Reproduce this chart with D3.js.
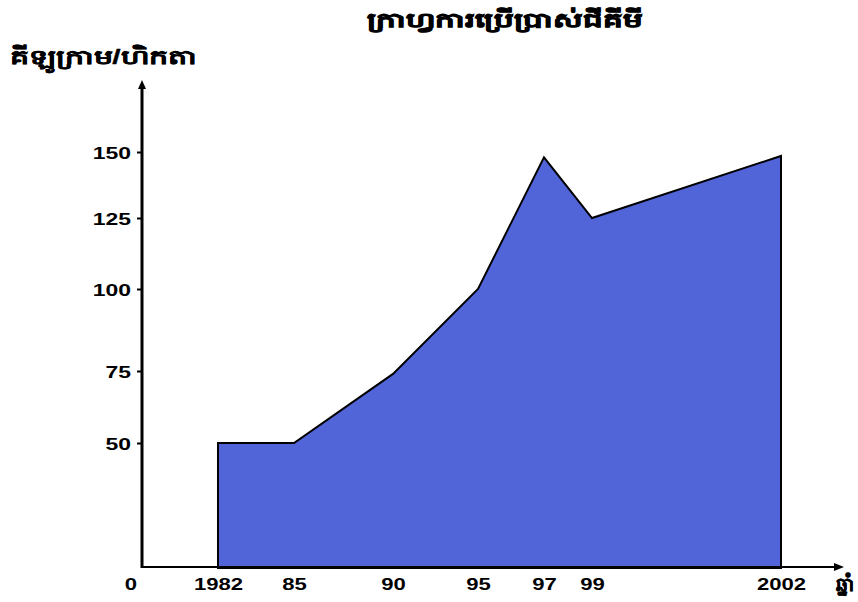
<!DOCTYPE html>
<html>
<head>
<meta charset="utf-8">
<script src="https://cdn.jsdelivr.net/npm/d3@7"></script>
<style>
  html, body { margin: 0; padding: 0; background: #fff; }
  svg { display: block; }
  text { font-family: "Liberation Sans", Arial, sans-serif; font-weight: bold; fill: #000; }
</style>
</head>
<body>
<svg id="chart" width="858" height="602"></svg>
<script>
// ---- data ----
const years = [1982, 1985, 1990, 1995, 1997, 1999, 2002];
const yieldKgHa = [50, 50, 74, 100, 148, 125, 148.5];
const xTickLabels = ["1982", "85", "90", "95", "97", "99", "2002"];
const yTickValues = [50, 75, 100, 125, 150];
const titleText = "ក្រាហ្វការប្រើប្រាស់ជីគីមី";
const yAxisTitle = "គីឡូក្រាម/ហិកតា";
const xAxisTitle = "ឆ្នាំ";

const svg = d3.select("#chart");
const originX = 142, originY = 567;

// hand-drawn axes: piecewise linear scales following the original tick placement
const x = d3.scaleLinear()
  .domain(years)
  .range([218, 294, 393, 478, 544, 592, 781]);
const y = d3.scaleLinear()
  .domain([0, 50, 75, 100, 125, 150, 177])
  .range([originY, 443, 371, 289, 218, 152, 80]);

const data = years.map((yr, i) => ({ year: yr, v: yieldKgHa[i] }));

// area
const area = d3.area()
  .x(d => x(d.year))
  .y0(originY + 1)
  .y1(d => y(d.v));
svg.append("path")
  .datum(data)
  .attr("d", area)
  .attr("fill", "#5164d8")
  .attr("stroke", "#000")
  .attr("stroke-width", 2)
  .attr("stroke-linejoin", "miter");

// y axis ticks + labels
const yAxis = d3.axisLeft(y).tickValues(yTickValues).tickSize(5).tickPadding(7)
  .tickFormat(d3.format("d"));
const gy = svg.append("g").attr("transform", `translate(${originX},0)`).call(yAxis);
gy.select(".domain").remove();
gy.selectAll(".tick line").attr("stroke", "#000").attr("stroke-width", 2);
gy.selectAll(".tick text")
  .attr("font-size", 17)
  .attr("font-family", "Liberation Sans, Arial, sans-serif")
  .attr("font-weight", "bold")
  .attr("dy", "0.36em")
  .attr("x", null)
  .attr("transform", "translate(-11,0) scale(1.35,1)");

// axis lines
svg.append("line")
  .attr("x1", originX).attr("y1", originY + 1)
  .attr("x2", originX).attr("y2", y(177) + 6)
  .attr("stroke", "#000").attr("stroke-width", 3);
svg.append("path")
  .attr("d", d3.line()([[originX - 4, y(177) + 9], [originX, y(177)], [originX + 4, y(177) + 9]]) + "Z")
  .attr("fill", "#000");
svg.append("line")
  .attr("x1", originX).attr("y1", originY)
  .attr("x2", 838).attr("y2", originY)
  .attr("stroke", "#000").attr("stroke-width", 2);
svg.append("path")
  .attr("d", d3.line()([[834, originY - 4], [844, originY], [834, originY + 4]]) + "Z")
  .attr("fill", "#000");

// x axis labels
const xAxis = d3.axisBottom(x).tickValues(years).tickSize(0).tickPadding(0)
  .tickFormat((d, i) => xTickLabels[i]);
const gx = svg.append("g").attr("transform", `translate(0,${originY})`).call(xAxis);
gx.select(".domain").remove();
gx.selectAll(".tick text")
  .attr("font-size", 17)
  .attr("font-family", "Liberation Sans, Arial, sans-serif")
  .attr("font-weight", "bold")
  .attr("y", null).attr("dy", null)
  .attr("transform", "translate(0,23) scale(1.3,1)");

// origin label
svg.append("text")
  .attr("transform", `translate(${originX - 11},${originY + 23}) scale(1.3,1)`)
  .attr("text-anchor", "middle")
  .attr("font-size", 17)
  .text("0");

// titles
svg.append("text")
  .attr("transform", "translate(505,27) scale(1.55,1)")
  .attr("text-anchor", "middle")
  .attr("font-size", 20)
  .attr("stroke", "#000").attr("stroke-width", 0.8)
  .text(titleText);
svg.append("text")
  .attr("transform", "translate(10,64) scale(1.5,1)")
  .attr("font-size", 20)
  .attr("stroke", "#000").attr("stroke-width", 0.3)
  .text(yAxisTitle);
svg.append("text")
  .attr("x", 836).attr("y", 591)
  .attr("font-size", 19)
  .attr("stroke", "#000").attr("stroke-width", 0.4)
  .text(xAxisTitle);
</script>
</body>
</html>
